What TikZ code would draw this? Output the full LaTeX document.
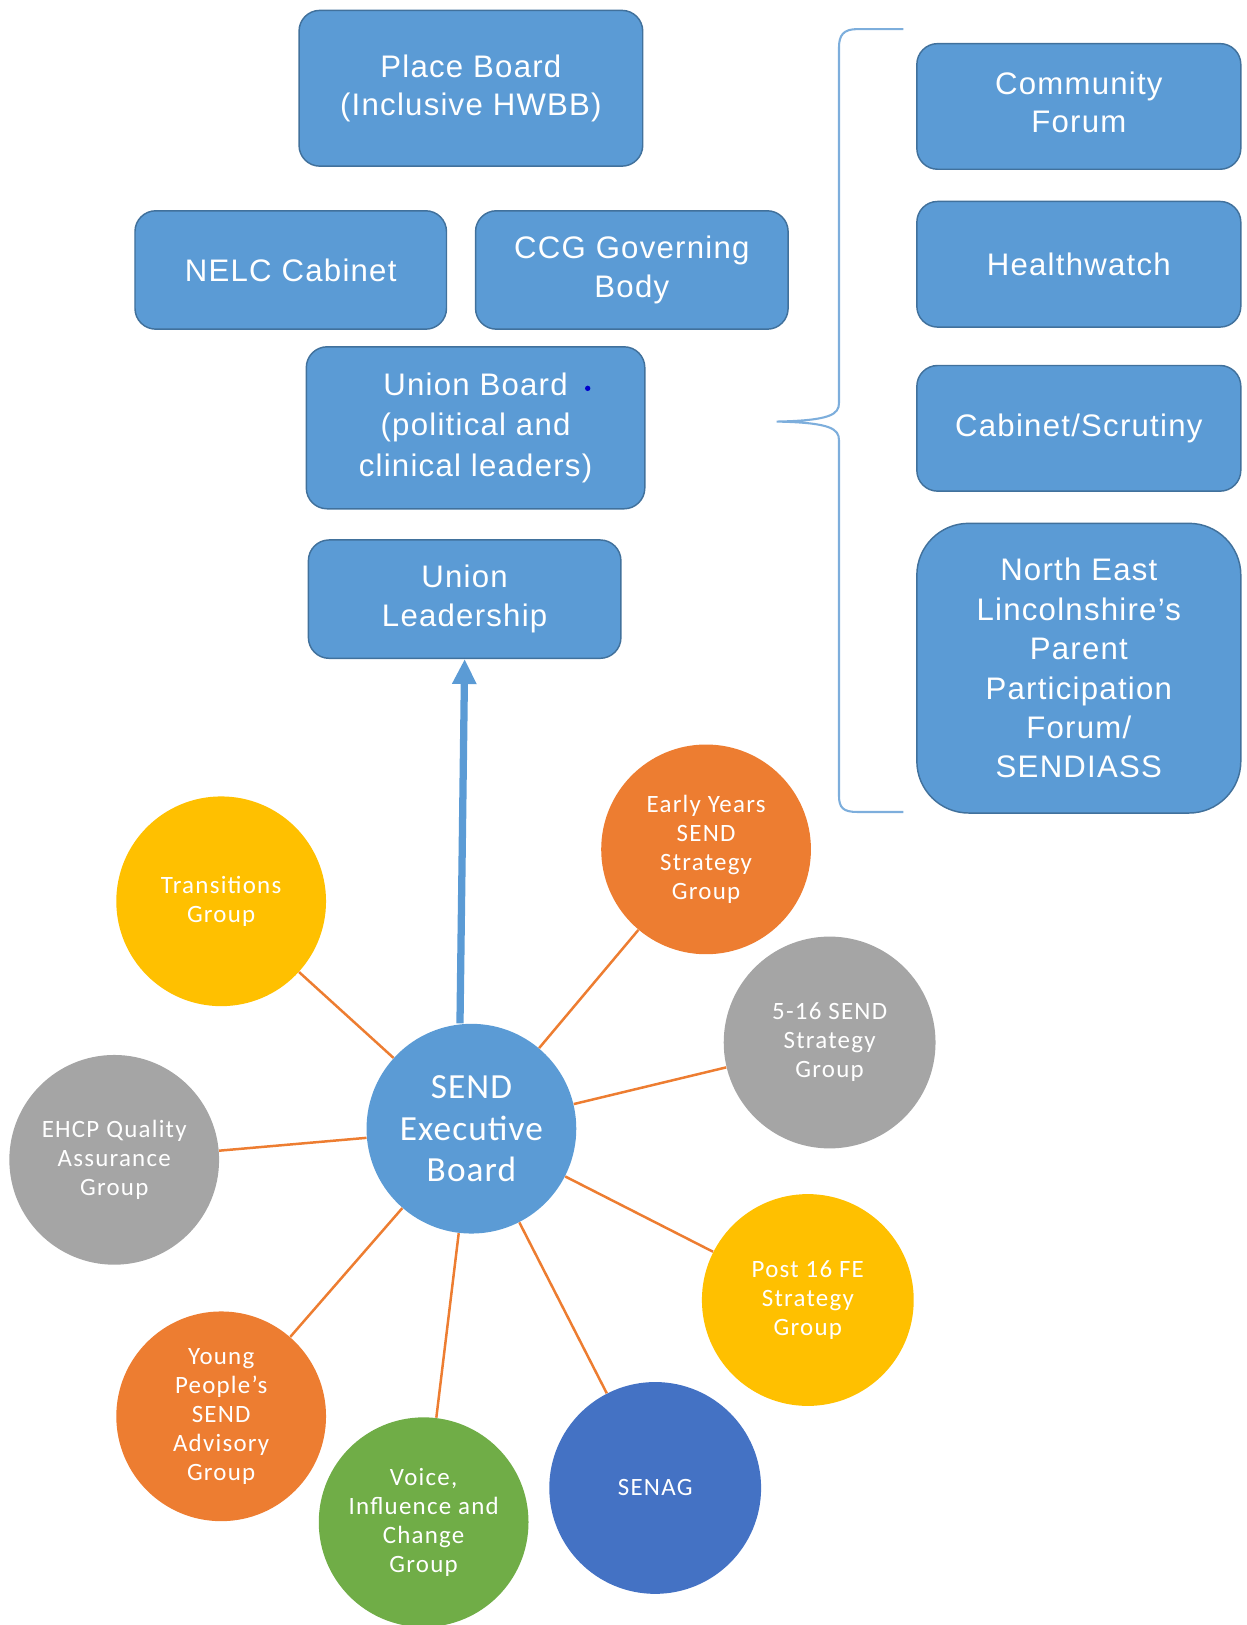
\documentclass[tikz,border=0pt]{standalone}
\usepackage{fontspec}
\setmainfont{Liberation Sans}
\newfontfamily\boxfont[LetterSpace=4]{Liberation Sans}
\newfontfamily\circfont[LetterSpace=5]{Carlito}
\newfontfamily\sendfont[LetterSpace=3]{Carlito}
\usetikzlibrary{arrows.meta}
\definecolor{boxblue}{HTML}{5B9BD5}
\definecolor{boxline}{HTML}{41719C}
\definecolor{cyellow}{HTML}{FFC000}
\definecolor{corange}{HTML}{ED7D31}
\definecolor{cgray}{HTML}{A5A5A5}
\definecolor{cgreen}{HTML}{70AD47}
\definecolor{cdblue}{HTML}{4472C4}
\definecolor{bracecol}{HTML}{7DAEDC}
\tikzset{
  box/.style={draw=boxline, line width=0.7pt, fill=boxblue, rounded corners=10pt,
    text=white, align=center, inner sep=2pt,
    font=\boxfont\fontsize{15}{18.5}\selectfont},
  circ/.style={circle, minimum size=101pt, inner sep=0pt, text=white, align=center,
    font=\circfont\fontsize{12}{14}\selectfont},
  conn/.style={draw=corange, line width=1.2pt},
  arr/.style={draw=boxblue, line width=3.5pt, -{Triangle[width=11pt,length=12pt]}},
  bracestyle/.style={draw=bracecol, line width=1pt}
}
\begin{document}
\begin{tikzpicture}[x=0.5pt,y=-0.5pt]
\useasboundingbox (0,0) rectangle (1200,1565);
% boxes
\node[box, minimum width=165.5pt, minimum height=75pt] (place) at (453.5,85) {Place Board\\(Inclusive HWBB)};
\node[box, minimum width=150pt, minimum height=57pt] (nelc) at (280,260) {NELC Cabinet};
\node[box, minimum width=150.5pt, minimum height=57pt] (ccg) at (608.5,260) {CCG Governing\\Body};
\node[box, minimum width=163pt, minimum height=78pt, font=\boxfont\fontsize{15}{19.5}\selectfont] (ub) at (458,412) {Union Board\\(political and\\clinical leaders)};
\node[box, minimum width=150.5pt, minimum height=57pt] (ul) at (447.5,577) {Union\\Leadership};
\fill[blue!80!black] (566,374) circle (1.3pt);
% right column
\node[box, minimum width=156pt, minimum height=60.5pt, text depth=4pt] (comm) at (1039,102.5) {Community\\Forum};
\node[box, minimum width=156pt, minimum height=60.5pt] (hw) at (1039,254.5) {Healthwatch};
\node[box, minimum width=156pt, minimum height=60.5pt] (cab) at (1039,412.5) {Cabinet/Scrutiny};
\node[box, minimum width=156pt, minimum height=139.5pt, rounded corners=25pt, font=\boxfont\fontsize{15}{19}\selectfont] (nel) at (1039,643.5) {North East\\Lincolnshire’s\\Parent\\Participation\\Forum/\\SENDIASS};
% brace
\draw[bracestyle] (870,28) -- (826,28) .. controls (812,28) and (808,34) .. (808,46) -- (808,388)
  .. controls (808,399) and (800,405) .. (748,406)
  .. controls (800,407) and (808,413) .. (808,424) -- (808,766)
  .. controls (808,778) and (812,782) .. (826,782) -- (870,782);
% circles
\node[circ, fill=boxblue, font=\sendfont\fontsize{17}{20}\selectfont] (send) at (454,1087) {SEND\\Executive\\Board};
\node[circ, fill=cyellow] (trans) at (213,868) {Transitions\\Group};
\node[circ, fill=corange] (early) at (680,818) {Early Years\\SEND\\Strategy\\Group};
\node[circ, fill=cgray, minimum size=102pt] (five) at (799,1004) {5-16 SEND\\Strategy\\Group};
\node[circ, fill=cgray] (ehcp) at (110,1117) {EHCP Quality\\Assurance\\Group};
\node[circ, fill=cyellow, minimum size=102pt] (post) at (778,1252) {Post 16 FE\\Strategy\\Group};
\node[circ, fill=corange] (yp) at (213,1364) {Young\\People’s\\SEND\\Advisory\\Group};
\node[circ, fill=cgreen] (voice) at (408,1466) {Voice,\\Influence and\\Change\\Group};
\node[circ, fill=cdblue, minimum size=102pt] (senag) at (631,1433) {SENAG};
% connectors
\draw[conn] (send) -- (trans);
\draw[conn] (send) -- (early);
\draw[conn] (send) -- (five);
\draw[conn] (send) -- (ehcp);
\draw[conn] (send) -- (post);
\draw[conn] (send) -- (yp);
\draw[conn] (send) -- (voice);
\draw[conn] (send) -- (senag);
% arrow
\draw[arr] ([xshift=-5.5pt]send.north) -- (ul.south);
\end{tikzpicture}
\end{document}
